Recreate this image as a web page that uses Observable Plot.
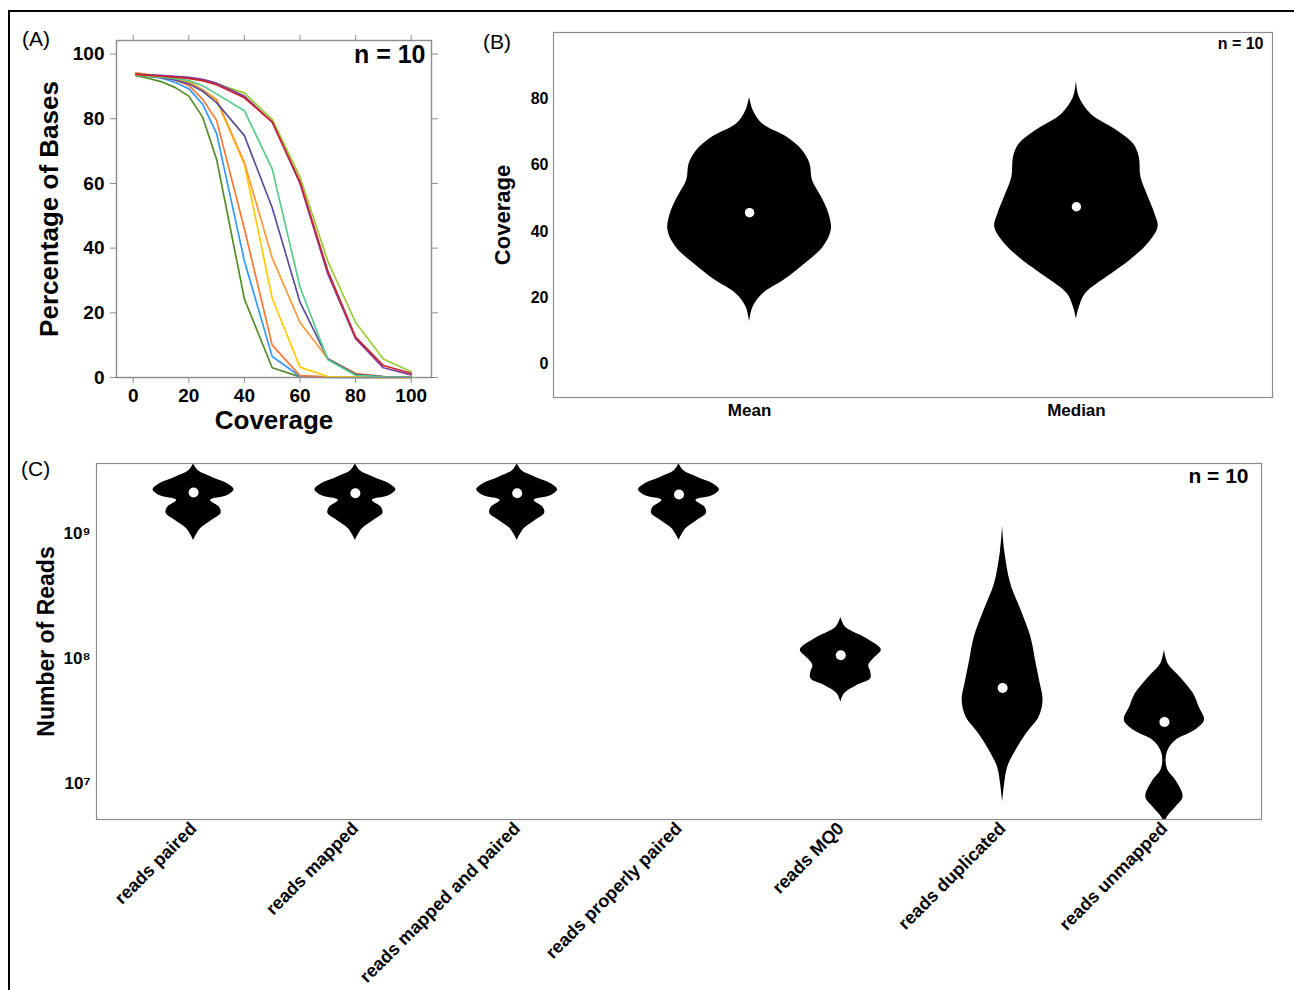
<!DOCTYPE html>
<html><head><meta charset="utf-8">
<script src="https://cdn.jsdelivr.net/npm/d3@7"></script>
<script src="https://cdn.jsdelivr.net/npm/@observablehq/plot@0.6"></script>
<style>
html,body{margin:0;padding:0;background:#fff;overflow:hidden}
#fig{position:relative;width:1294px;height:990px;overflow:hidden;font-family:"Liberation Sans",Arial,Helvetica,sans-serif;background:#fff}
#border{position:absolute;left:8px;top:10px;width:1400px;height:1100px;border:2px solid #000;box-sizing:border-box}
.panel{position:absolute}
.tag{position:absolute;font-size:21px;line-height:1;font-weight:normal;color:#000;white-space:nowrap}
</style></head><body>
<div id="fig">
<div id="border"></div>
<div class="panel" id="pC" style="left:0px;top:440px"></div>
<div class="panel" id="pA" style="left:0px;top:0px"></div>
<div class="panel" id="pB" style="left:440px;top:0px"></div>
<div class="tag" style="left:22px;top:28px">(A)</div>
<div class="tag" style="left:483px;top:31px">(B)</div>
<div class="tag" style="left:21px;top:458px">(C)</div>
</div>
<script>
// ---------- Panel A data ----------
const aCoverage = [1, 5, 10, 15, 20, 25, 30, 40, 50, 60, 70, 80, 90, 100];
const sampleNames = ["S1","S2","S3","S4","S5","S6","S7","S10","S9","S8"];
const sampleColors = ["#558c28","#3399ff","#ff7733","#ffcc00","#ff9933","#5c4e9a","#55cc88","#99cc33","#7b3f9e","#cc2233"];
const s1  = [93.3, 92.6, 91.5, 89.7, 87.0, 80.5, 67.5, 24.3, 3.0, 0.2, 0, 0, 0, 0];
const s2  = [93.8, 93.3, 92.6, 91.3, 89.3, 84.5, 75.5, 36.0, 6.5, 0.4, 0.1, 0, 0, 0];
const s3  = [94.1, 93.6, 93.0, 92.0, 90.3, 86.0, 79.5, 46.0, 10.0, 0.6, 0.2, 0.1, 0, 0];
const s4  = [94.0, 93.5, 93.0, 92.3, 91.2, 88.8, 85.7, 66.0, 24.5, 3.2, 0.3, 0.1, 0, 0];
const s5  = [94.2, 93.7, 93.2, 92.5, 91.5, 89.0, 86.0, 66.5, 37.0, 17.0, 5.8, 1.3, 0.3, 0.1];
const s6  = [93.6, 93.2, 92.7, 92.0, 90.8, 88.5, 85.0, 74.8, 52.5, 23.3, 5.8, 1.0, 0.3, 0.1];
const s7  = [93.5, 93.2, 92.9, 92.5, 91.8, 90.2, 87.7, 82.5, 64.5, 28.0, 5.5, 0.7, 0.2, 0.1];
const s10 = [93.6, 93.4, 93.2, 92.9, 92.5, 91.8, 90.8, 88.0, 79.8, 62.0, 36.0, 17.0, 5.7, 1.8];
const s9  = [93.8, 93.6, 93.4, 93.1, 92.8, 92.2, 91.0, 87.0, 79.0, 60.0, 32.0, 12.0, 3.0, 0.8];
const s8  = [93.7, 93.5, 93.2, 92.9, 92.5, 91.8, 90.5, 86.5, 79.0, 60.5, 33.0, 12.5, 3.7, 1.3];
const aSeries = [s1, s2, s3, s4, s5, s6, s7, s10, s9, s8];
const aXTicks = [0, 20, 40, 60, 80, 100];
const aYTicks = [0, 20, 40, 60, 80, 100];

// ---------- Panel B data ----------
const bCats = ["Mean", "Median"];
const bMeanV    = [80.4, 76.4, 72.4, 68.4, 64.4, 60.4, 55.4, 50.4, 45.4, 40.4, 35.3, 30.3, 25.3, 21.3, 17.3, 12.8];
const bMeanD    = [0, 0.046, 0.16, 0.46, 0.65, 0.74, 0.77, 0.88, 0.97, 1.0, 0.9, 0.68, 0.42, 0.166, 0.043, 0];
const bMedianV  = [85.4, 80.4, 75.4, 70.4, 66.4, 62.4, 56.4, 50.4, 45.4, 41.4, 36.4, 31.4, 26.4, 21.4, 17.3, 13.7];
const bMedianD  = [0, 0.037, 0.18, 0.5, 0.7, 0.77, 0.79, 0.88, 0.96, 1.0, 0.88, 0.66, 0.38, 0.116, 0.037, 0];
const bCenters  = [45.7, 47.5];
const bYTicks = [0, 20, 40, 60, 80];

// ---------- Panel C data ----------
const cCats = ["reads paired", "reads mapped", "reads mapped and paired", "reads properly paired", "reads MQ0", "reads duplicated", "reads unmapped"];
const cPairedV   = [3.61e9, 3.19e9, 2.82e9, 2.50e9, 2.24e9, 2.01e9, 1.84e9, 1.62e9, 1.45e9, 1.27e9, 1.09e9, 8.8e8];
const cPairedD   = [0, 0.11, 0.45, 0.84, 1.0, 0.84, 0.42, 0.64, 0.68, 0.45, 0.17, 0];
const cMQ0V      = [2.14e8, 1.78e8, 1.48e8, 1.23e8, 1.16e8, 9.93e7, 8.79e7, 7.76e7, 6.87e7, 6.08e7, 5.22e7, 4.47e7];
const cMQ0D      = [0, 0.12, 0.58, 0.96, 1.0, 0.81, 0.69, 0.74, 0.74, 0.40, 0.09, 0];
const cDupV      = [1.14e9, 7.31e8, 3.96e8, 2.42e8, 1.48e8, 9.08e7, 6.28e7, 4.61e7, 3.39e7, 2.50e7, 1.84e7, 1.35e7, 9.9e6, 7.1e6];
const cDupD      = [0, 0.05, 0.2, 0.46, 0.7, 0.83, 0.93, 1.0, 0.9, 0.59, 0.33, 0.125, 0.05, 0];
const cUnmapV    = [1.17e8, 9.08e7, 7.08e7, 5.22e7, 4.07e7, 3.19e7, 2.65e7, 2.21e7, 1.84e7, 1.53e7, 1.27e7, 1.06e7, 7.76e6, 6.46e6, 5.37e6, 4.6e6];
const cUnmapD    = [0, 0.09, 0.39, 0.72, 0.86, 0.99, 0.75, 0.28, 0.09, 0.04, 0.09, 0.28, 0.46, 0.28, 0.07, 0];
const cProfilesV = [cPairedV, cPairedV, cPairedV, cPairedV, cMQ0V, cDupV, cUnmapV];
const cProfilesD = [cPairedD, cPairedD, cPairedD, cPairedD, cMQ0D, cDupD, cUnmapD];
const cCenters   = [2.13e9, 2.10e9, 2.10e9, 2.05e9, 1.06e8, 5.8e7, 3.1e7];
const cYTicks = [1e7, 1e8, 1e9];
const cYTickLabels = ["10\u2077", "10\u2078", "10\u2079"];

const nLabel = "n = 10";
const fontFam = '"Liberation Sans", Arial, Helvetica, sans-serif';
const halfW = 0.25;   // violin half-width (category units) at max density
const frameCol = "#8c8c8c";

// ---------- build tables ----------
const rowsA = [];
aSeries.forEach((s, i) => s.forEach((p, j) => rowsA.push({sample: sampleNames[i], coverage: aCoverage[j], pct: p})));

const rowsB = [];
[[bMeanV, bMeanD], [bMedianV, bMedianD]].forEach(([vs, ds], i) => vs.forEach((v, j) => rowsB.push({pos: i + 1, v, dens: ds[j]})));
const dotsB = bCenters.map((v, i) => ({pos: i + 1, v}));

const rowsC = [];
cProfilesV.forEach((vs, i) => vs.forEach((v, j) => rowsC.push({pos: i + 1, v, dens: cProfilesD[i][j]})));
const dotsC = cCenters.map((v, i) => ({pos: i + 1, v}));

const baseStyle = {fontFamily: fontFam, background: "transparent", overflow: "visible", color: "#000"};

// ---------- Panel A ----------
const plotA = Plot.plot({
  width: 440, height: 450,
  marginLeft: 116, marginRight: 9, marginTop: 40, marginBottom: 73,
  style: baseStyle,
  x: {domain: [-6.0, 107.3]},
  y: {domain: [0, 104.2]},
  color: {domain: sampleNames, range: sampleColors},
  marks: [
    Plot.line(rowsA, {x: "coverage", y: "pct", z: "sample", stroke: "sample", strokeWidth: 1.7}),
    Plot.frame({stroke: frameCol, strokeWidth: 1.4}),
    Plot.axisX({anchor: "bottom", ticks: aXTicks, tickSize: 6, tickPadding: 5, fontSize: 19, fontWeight: "bold", stroke: frameCol, label: null}),
    Plot.axisX({anchor: "top", ticks: aXTicks, tickSize: 6, fill: "none", stroke: frameCol, label: null}),
    Plot.axisY({anchor: "left", ticks: aYTicks, tickSize: 6, tickPadding: 6, fontSize: 19, fontWeight: "bold", stroke: frameCol, label: null}),
    Plot.axisY({anchor: "right", ticks: aYTicks, tickSize: 6, fill: "none", stroke: frameCol, label: null}),
    Plot.text([nLabel], {text: d => d, frameAnchor: "top-right", dx: -6, dy: 5, textAnchor: "end", lineAnchor: "top", fontSize: 25, fontWeight: "bold"}),
    Plot.text(["Coverage"], {text: d => d, frameAnchor: "bottom", dy: 51, textAnchor: "middle", fontSize: 26, fontWeight: "bold"}),
    Plot.text(["Percentage of Bases"], {text: d => d, frameAnchor: "left", dx: -67, rotate: -90, textAnchor: "middle", fontSize: 26, fontWeight: "bold"})
  ]
});
document.getElementById("pA").appendChild(plotA);

// ---------- Panel B ----------
const plotB = Plot.plot({
  width: 854, height: 430,
  marginLeft: 113, marginRight: 22, marginTop: 32, marginBottom: 33,
  style: baseStyle,
  x: {domain: [0.4, 2.6]},
  y: {domain: [-10, 100]},
  marks: [
    Plot.areaX(rowsB, {y: "v", x1: d => d.pos - halfW * d.dens, x2: d => d.pos + halfW * d.dens, z: "pos", fill: "black", curve: "catmull-rom"}),
    Plot.dot(dotsB, {x: "pos", y: "v", r: 4.7, fill: "white"}),
    Plot.frame({stroke: frameCol, strokeWidth: 1.2}),
    Plot.axisX({ticks: [1, 2], tickFormat: i => bCats[i - 1], tickSize: 0, tickPadding: 6, fontSize: 17, fontWeight: "bold", label: null}),
    Plot.axisY({ticks: bYTicks, tickSize: 0, tickPadding: 5, fontSize: 16, fontWeight: "bold", label: null}),
    Plot.text([nLabel], {text: d => d, frameAnchor: "top-right", dx: -9, dy: 5, textAnchor: "end", lineAnchor: "top", fontSize: 16, fontWeight: "bold"}),
    Plot.text(["Coverage"], {text: d => d, frameAnchor: "left", dx: -51, rotate: -90, textAnchor: "middle", fontSize: 22, fontWeight: "bold"})
  ]
});
document.getElementById("pB").appendChild(plotB);

// ---------- Panel C ----------
const plotC = Plot.plot({
  width: 1294, height: 550,
  marginLeft: 96, marginRight: 33, marginTop: 23, marginBottom: 171,
  style: baseStyle,
  x: {domain: [0.4, 7.6]},
  y: {type: "log", domain: [5.15e6, 3.63e9]},
  marks: [
    Plot.areaX(rowsC, {y: "v", x1: d => d.pos - halfW * d.dens, x2: d => d.pos + halfW * d.dens, z: "pos", fill: "black", curve: "catmull-rom", clip: true}),
    Plot.dot(dotsC, {x: "pos", y: "v", r: 5, fill: "white"}),
    Plot.frame({stroke: frameCol, strokeWidth: 1.2}),
    Plot.axisX({ticks: [1, 2, 3, 4, 5, 6, 7], tickFormat: i => cCats[i - 1], tickRotate: -45, tickSize: 0, tickPadding: 6, fontSize: 18, fontWeight: "bold", label: null}),
    Plot.axisY({ticks: cYTicks, tickFormat: d => cYTickLabels[cYTicks.indexOf(d)], tickSize: 0, tickPadding: 6, fontSize: 17, fontWeight: "bold", label: null}),
    Plot.text([nLabel], {text: d => d, frameAnchor: "top-right", dx: -13, dy: 5, textAnchor: "end", lineAnchor: "top", fontSize: 21, fontWeight: "bold"}),
    Plot.text(["Number of Reads"], {text: d => d, frameAnchor: "left", dx: -50, rotate: -90, textAnchor: "middle", fontSize: 23, fontWeight: "bold"})
  ]
});
document.getElementById("pC").appendChild(plotC);
</script>
</body></html>
